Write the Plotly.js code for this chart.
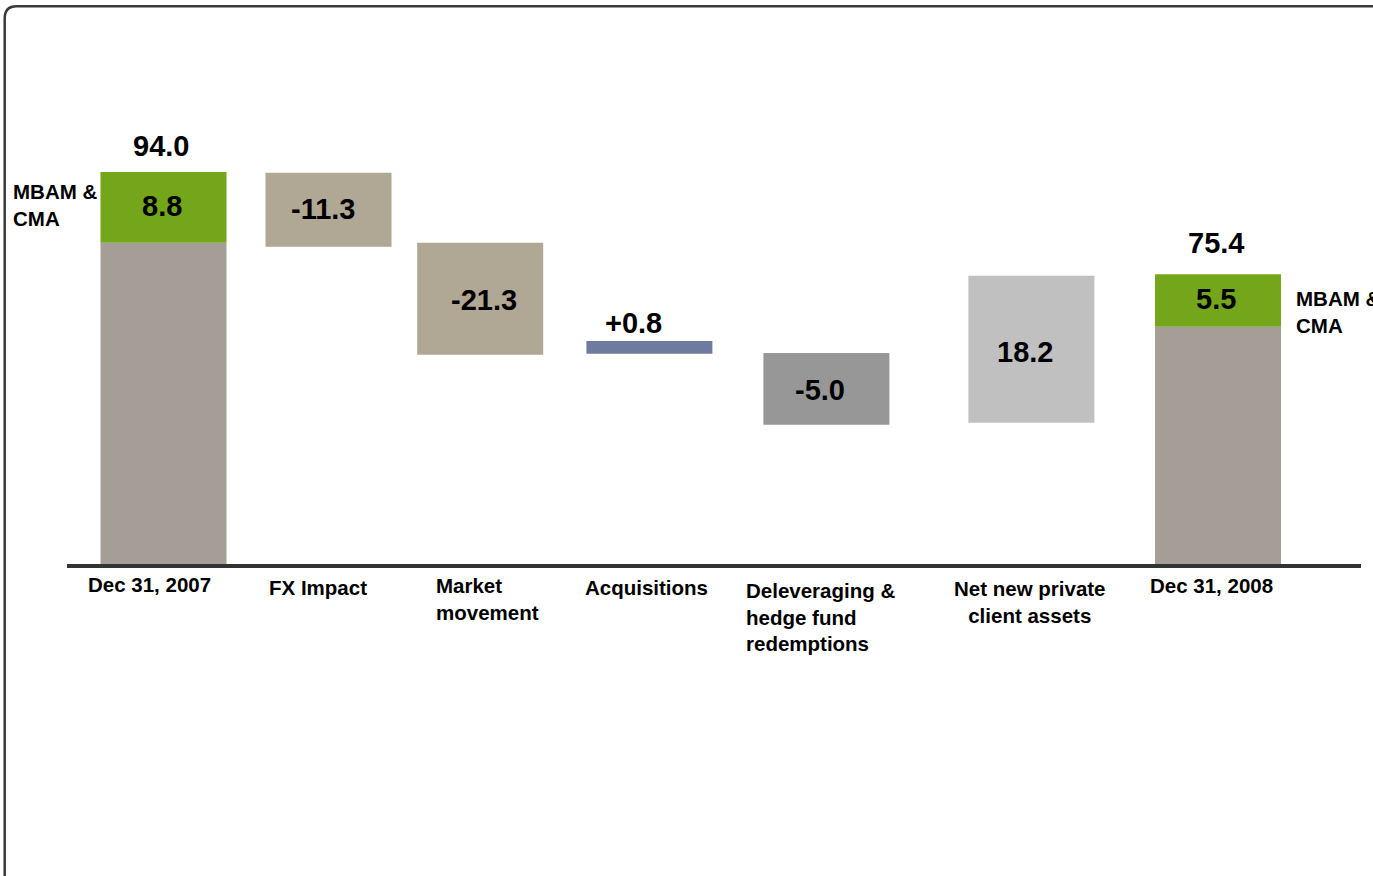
<!DOCTYPE html>
<html>
<head>
<meta charset="utf-8">
<script src="https://cdn.plot.ly/plotly-3.0.1.min.js"></script>
<style>html,body{margin:0;padding:0;background:#fff;}#chart{width:1373px;height:876px;}</style>
</head>
<body>
<div id="chart"></div>
<script>
// ---- data ----
const categories = ['Dec 31, 2007', 'FX Impact', 'Market<br>movement', 'Acquisitions',
  'Deleveraging &<br>hedge fund<br>redemptions', 'Net new private<br>client assets', 'Dec 31, 2008'];
const valueLabels = ['94.0', '-11.3', '-21.3', '+0.8', '-5.0', '18.2', '75.4'];
// drawn extent of each bar (the original drawing is not to scale)
const barBottom = [0, 76.1, 50.2, 50.4, 33.4, 33.9, 0];
const barTop = [77.05, 93.8, 77.05, 53.5, 50.6, 69.1, 56.9];
// MBAM & CMA segments on the two total bars
const mbamIndex = [0, 6];
const mbamLabels = ['8.8', '5.5'];
const mbamBottom = [77.05, 56.9];
const mbamTop = [94.0, 69.5];
const mbamText = 'MBAM &<br>CMA';

// ---- layout / style ----
const W = 1373, H = 876;
const slotX = [163.5, 328.5, 480.2, 649.4, 826.4, 1031.4, 1218];
const barW = 126;
const barColors = ['#a59e97', '#b0a795', '#b0a795', '#6f7aa0', '#979797', '#c0c0c0', '#a59e97'];
const green = '#73a61a';
const FONT = 'Liberation Sans, Arial, sans-serif';
const zeroPx = 564, pxPerUnit = 392 / 94;
const yRange = [-(H - zeroPx) / pxPerUnit, zeroPx / pxPerUnit];
const valueShift = [[-3, 8], [-5, 1], [4, -1], [-16, 0], [-6, -1], [-6, -3], [-2, 13]];

const traces = [
  {
    type: 'bar', x: slotX, base: barBottom,
    y: barTop.map((t, i) => t - barBottom[i]),
    width: barW, marker: {color: barColors, line: {width: 0}},
    hoverinfo: 'skip'
  },
  {
    type: 'bar', x: mbamIndex.map(i => slotX[i]), base: mbamBottom,
    y: mbamTop.map((t, i) => t - mbamBottom[i]),
    width: barW, marker: {color: green, line: {width: 0}},
    hoverinfo: 'skip'
  }
];

const ann = [];
const vFont = {family: FONT, size: 29, color: '#000', weight: 'bold'};
// value labels
valueLabels.forEach((t, i) => {
  const isTotal = (i === 0 || i === categories.length - 1);
  const hPx = (barTop[i] - barBottom[i]) * pxPerUnit;
  const s = valueShift[i];
  if (isTotal) {
    const k = mbamIndex.indexOf(i);
    ann.push({x: slotX[i], y: mbamTop[k], xref: 'x', yref: 'y', text: t, showarrow: false,
      xanchor: 'center', yanchor: 'bottom', xshift: s[0], yshift: s[1], font: vFont});
  } else if (hPx < 40) {
    ann.push({x: slotX[i], y: barTop[i], xref: 'x', yref: 'y', text: t, showarrow: false,
      xanchor: 'center', yanchor: 'bottom', xshift: s[0], yshift: s[1], font: vFont});
  } else {
    ann.push({x: slotX[i], y: (barTop[i] + barBottom[i]) / 2, xref: 'x', yref: 'y', text: t, showarrow: false,
      xanchor: 'center', yanchor: 'middle', xshift: s[0], yshift: s[1], font: vFont});
  }
});
mbamLabels.forEach((t, k) => {
  ann.push({x: slotX[mbamIndex[k]], y: (mbamTop[k] + mbamBottom[k]) / 2, xref: 'x', yref: 'y', text: t,
    showarrow: false, xanchor: 'center', yanchor: 'middle', xshift: -2, yshift: 1, font: vFont});
});
// side MBAM & CMA labels
const cFont = {family: FONT, size: 20.5, color: '#000', weight: 'bold'};
ann.push({x: 11, y: (mbamTop[0] + mbamBottom[0]) / 2, xref: 'x', yref: 'y', text: mbamText, showarrow: false,
  xanchor: 'left', yanchor: 'middle', align: 'left', font: cFont, yshift: 2});
ann.push({x: 1294, y: (mbamTop[1] + mbamBottom[1]) / 2, xref: 'x', yref: 'y', text: mbamText, showarrow: false,
  xanchor: 'left', yanchor: 'middle', align: 'left', font: cFont, yshift: -12});
// category labels
const catPos = [
  {x: 149, a: 'center', top: 571}, {x: 318, a: 'center', top: 574}, {x: 434, a: 'left', top: 572},
  {x: 646, a: 'center', top: 574}, {x: 744, a: 'left', top: 577}, {x: 1030, a: 'center', top: 575},
  {x: 1211, a: 'center', top: 572}
];
categories.forEach((c, i) => {
  ann.push({x: catPos[i].x, y: 0, xref: 'x', yref: 'y', text: c, showarrow: false,
    xanchor: catPos[i].a, yanchor: 'top', align: catPos[i].a === 'left' ? 'left' : 'center',
    yshift: -(catPos[i].top - zeroPx), font: cFont});
});

// frame (rounded rectangle running off the right and bottom edges)
const px = v => v / W, py = v => 1 - v / H;
const fl = 4.7, ft = 6.3, r = 12;
const framePath = `M ${px(fl)} ${py(H + 20)} L ${px(fl)} ${py(ft + r)} Q ${px(fl)} ${py(ft)} ${px(fl + r)} ${py(ft)} L ${px(W + 20)} ${py(ft)}`;

const layout = {
  width: W, height: H,
  margin: {l: 0, r: 0, t: 0, b: 0},
  paper_bgcolor: '#ffffff', plot_bgcolor: '#ffffff',
  showlegend: false, barmode: 'overlay',
  xaxis: {range: [0, W], visible: false, fixedrange: true},
  yaxis: {range: yRange, visible: false, fixedrange: true},
  annotations: ann,
  shapes: [
    {type: 'line', xref: 'x', yref: 'y', x0: 67, x1: 1361, y0: -0.5, y1: -0.5,
      line: {color: '#333333', width: 4}, layer: 'above'},
    {type: 'path', xref: 'paper', yref: 'paper', path: framePath,
      line: {color: '#3a3a3a', width: 2.5}}
  ]
};

Plotly.newPlot('chart', traces, layout, {displayModeBar: false, staticPlot: true});
</script>
</body>
</html>
